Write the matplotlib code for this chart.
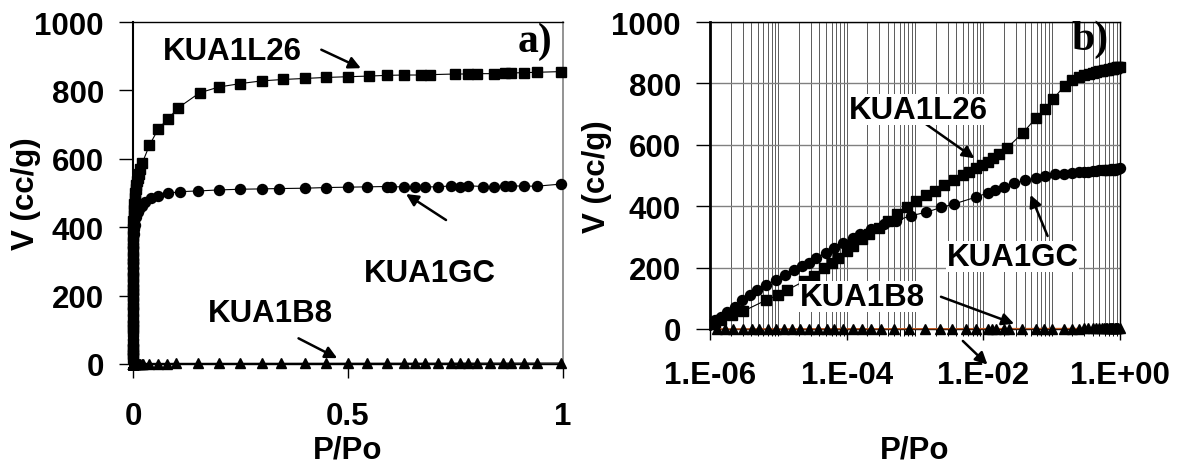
import matplotlib
matplotlib.use("Agg")
import matplotlib.pyplot as plt
from matplotlib.ticker import LogLocator, NullFormatter, FixedLocator

plt.rcParams['font.family'] = ['Liberation Sans', 'DejaVu Sans']
plt.rcParams['font.weight'] = 'bold'

# KUA1L26 (squares)
l26_x = [1.2e-6, 1.45e-6, 2.1e-6, 3.0e-6, 6.6e-6, 9.8e-6, 1.35e-5, 2.4e-5, 3.3e-5,
         4.6e-5, 6.0e-5, 7.4e-5, 1.0e-4, 1.23e-4, 1.66e-4, 2.14e-4, 2.95e-4, 4.07e-4,
         5.5e-4, 7.6e-4, 1.05e-3, 1.45e-3, 1.95e-3, 2.7e-3, 3.7e-3, 5.0e-3, 6.2e-3,
         7.9e-3, 9.5e-3, 1.15e-2, 1.38e-2, 1.7e-2, 2.2e-2, 3.8e-2, 5.9e-2, 8.1e-2,
         0.105, 0.155, 0.20, 0.25, 0.30, 0.35, 0.40, 0.45, 0.50, 0.55, 0.59, 0.63,
         0.67, 0.69, 0.75, 0.78, 0.80, 0.84, 0.865, 0.88, 0.91, 0.94, 0.995]
l26_v = [17, 28, 44, 57, 94, 110, 127, 156, 174,
         198, 215, 231, 253, 270, 292, 308, 330, 352,
         374, 396, 418, 435, 451, 468, 485, 501, 512,
         523, 534, 545, 556, 570, 589, 639, 688, 716,
         749, 793, 810, 820, 828, 832, 835, 838, 840, 842, 844, 845,
         845, 846, 848, 848, 849, 849, 850, 851, 852, 853, 855]

# KUA1GC (circles)
gc_x = [1.2e-6, 1.45e-6, 1.8e-6, 2.3e-6, 2.95e-6, 3.8e-6, 4.9e-6, 6.6e-6, 9.1e-6,
        1.26e-5, 1.7e-5, 2.2e-5, 2.8e-5, 3.6e-5, 5.0e-5, 6.5e-5, 8.9e-5, 1.23e-4,
        1.58e-4, 2.3e-4, 3.5e-4, 5.2e-4, 8.7e-4, 1.45e-3, 2.4e-3, 3.7e-3, 7.9e-3,
        1.15e-2, 1.48e-2, 2.0e-2, 2.8e-2, 4.1e-2, 5.9e-2, 8.1e-2, 0.11,
        0.152, 0.2, 0.25, 0.30, 0.34, 0.40, 0.45, 0.50, 0.545, 0.59, 0.60, 0.63,
        0.655, 0.68, 0.71, 0.74, 0.76, 0.78, 0.815, 0.84, 0.865, 0.88, 0.91, 0.94, 0.995]
gc_v = [28, 39, 55, 72, 94, 110, 127, 143, 160,
        176, 193, 204, 215, 231, 248, 264, 281, 295,
        308, 325, 341, 352, 369, 380, 396, 407, 430,
        443, 452, 463, 474, 485, 492, 499, 504,
        506, 509, 511, 512, 513, 514, 516, 517, 518, 519, 517, 519,
        517, 518, 518, 521, 519, 521, 519, 519, 520, 521, 520, 520, 526]

# KUA1B8 (triangles)
b8_x = [1.26e-6, 1.66e-6, 2.2e-6, 3.0e-6, 4.1e-6, 5.2e-6, 7.1e-6, 9.1e-6, 1.2e-5,
        1.6e-5, 2.1e-5, 2.8e-5, 3.8e-5, 5.1e-5, 6.6e-5, 8.7e-5, 1.23e-4, 1.7e-4,
        2.3e-4, 3.2e-4, 5.0e-4, 8.3e-4, 1.38e-3, 2.3e-3, 3.5e-3, 5.6e-3, 7.9e-3,
        1.15e-2, 1.35e-2, 1.55e-2, 2.0e-2, 2.4e-2, 3.7e-2, 5.9e-2, 7.8e-2, 0.1,
        0.152, 0.2, 0.25, 0.30, 0.345, 0.40, 0.45, 0.50, 0.545, 0.59, 0.63, 0.655,
        0.68, 0.71, 0.74, 0.76, 0.78, 0.80, 0.83, 0.86, 0.88, 0.91, 0.94, 0.995]
b8_v = [0.2, 0.2, 0.3, 0.3, 0.3, 0.4, 0.4, 0.4, 0.5,
        0.5, 0.5, 0.6, 0.6, 0.6, 0.7, 0.7, 0.7, 0.8,
        0.8, 0.8, 0.9, 0.9, 1.0, 1.0, 1.0, 1.1, 1.1,
        1.2, 1.2, 1.2, 1.3, 1.3, 1.3, 1.4, 1.4, 1.5,
        1.5, 1.6, 1.6, 1.7, 1.7, 1.8, 1.8, 1.9, 1.9, 2.0, 2.0, 2.0,
        2.1, 2.1, 2.1, 2.2, 2.2, 2.2, 2.3, 2.3, 2.3, 2.4, 2.4, 2.5]

yticks = [0, 200, 400, 600, 800, 1000]
log_ticks = [1e-6, 1e-4, 1e-2, 1.0]
log_labels = ['1.E-06', '1.E-04', '1.E-02', '1.E+00']

FS = 22.5
ms = 7.2

fig = plt.figure(figsize=(11.78, 4.64), dpi=100)
ax1 = fig.add_axes([0.1129, 0.2134, 0.365, 0.737])
ax2 = fig.add_axes([0.6027, 0.2888, 0.3481, 0.6616])


def draw_series(ax, b8_color):
    ax.plot(l26_x, l26_v, color='black', lw=0.8, marker='s', ms=ms, clip_on=False, zorder=3)
    ax.plot(gc_x, gc_v, color='black', lw=0.8, marker='o', ms=ms, clip_on=False, zorder=3)
    ax.plot(b8_x, b8_v, color=b8_color, lw=1.0, marker='^', ms=ms, mfc='black',
            mec='black', clip_on=False, zorder=3)


def arrow(ax, tail, head):
    ax.annotate('', xy=head, xytext=tail, annotation_clip=False,
                arrowprops=dict(arrowstyle='-|>', color='black', lw=1.8,
                                mutation_scale=18, shrinkA=0, shrinkB=0))


# ---- panel a) linear
draw_series(ax1, 'black')
ax1.set_xlim(0, 1)
ax1.set_ylim(0, 1000)
ax1.set_xticks([0, 0.5, 1])
ax1.set_xticklabels(['0', '0.5', '1'])
ax1.set_yticks(yticks)
ax1.tick_params(axis='x', direction='out', length=10, width=1, pad=17, labelsize=FS)
ax1.tick_params(axis='y', direction='out', length=10, width=1, pad=11, labelsize=FS)
ax1.spines['left'].set_linewidth(1.5)
ax1.spines['bottom'].set_linewidth(1.0)
ax1.spines['top'].set_linewidth(1.0)
ax1.spines['right'].set_color('#808080')
ax1.spines['right'].set_linewidth(1.2)
ax1.set_xlabel('P/Po', fontsize=FS, fontweight='bold')
ax1.set_ylabel('V (cc/g)', fontsize=FS, fontweight='bold')
ax1.xaxis.set_label_coords(0.5, -0.205)
ax1.yaxis.set_label_coords(-0.215, 0.5)

ax1.text(0.23, 915, 'KUA1L26', fontsize=FS, ha='center', va='center')
arrow(ax1, (0.438, 919), (0.53, 865))
ax1.text(0.69, 265, 'KUA1GC', fontsize=FS, ha='center', va='center')
arrow(ax1, (0.728, 421), (0.635, 497))
ax1.text(0.32, 148, 'KUA1B8', fontsize=FS, ha='center', va='center')
arrow(ax1, (0.385, 75), (0.475, 17))
ax1.text(0.935, 945, 'a)', fontsize=30, ha='center', va='center',
         family='Liberation Serif', fontweight='bold')

# ---- panel b) log
draw_series(ax2, '#c0571f')
ax2.set_xscale('log')
ax2.set_xlim(1e-6, 1)
ax2.set_ylim(0, 1000)
ax2.xaxis.set_major_locator(FixedLocator(log_ticks))
ax2.set_xticklabels(log_labels)
ax2.xaxis.set_minor_locator(LogLocator(base=10, subs=[1, 2, 3, 4, 5, 6, 7, 8, 9], numticks=20))
ax2.xaxis.set_minor_formatter(NullFormatter())
ax2.set_yticks(yticks)
ax2.grid(which='both', axis='x', color='#404040', lw=0.6, zorder=0)
ax2.grid(which='major', axis='y', color='#808080', lw=1.0, zorder=0)
ax2.set_axisbelow(True)
ax2.tick_params(axis='x', which='major', direction='out', length=8, width=1, pad=14, labelsize=FS)
ax2.tick_params(axis='x', which='minor', direction='out', length=5, width=0.7)
ax2.tick_params(axis='y', direction='out', length=10, width=1, pad=11, labelsize=FS)
ax2.spines['left'].set_linewidth(2.0)
for s in ['top', 'right', 'bottom']:
    ax2.spines[s].set_linewidth(1.0)
ax2.set_xlabel('P/Po', fontsize=FS, fontweight='bold')
ax2.set_ylabel('V (cc/g)', fontsize=FS, fontweight='bold')
ax2.xaxis.set_label_coords(0.5, -0.345)
ax2.yaxis.set_label_coords(-0.24, 0.5)

box = dict(facecolor='white', edgecolor='none', pad=0.5)
ax2.text(10 ** -2.95, 714, 'KUA1L26', fontsize=FS, ha='center', va='center', bbox=box, zorder=4)
arrow(ax2, (10 ** -2.90, 677), (10 ** -2.13, 556))
ax2.text(10 ** -1.57, 235, 'KUA1GC', fontsize=FS, ha='center', va='center', bbox=box, zorder=4)
arrow(ax2, (10 ** -1.06, 303), (10 ** -1.31, 437))
ax2.text(10 ** -3.77, 105, 'KUA1B8', fontsize=FS, ha='center', va='center', bbox=box, zorder=4)
arrow(ax2, (10 ** -2.62, 105), (10 ** -1.55, 17))
arrow(ax2, (10 ** -2.30, -39), (10 ** -1.94, -116))
ax2.text(10 ** -0.44, 947, 'b)', fontsize=30, ha='center', va='center',
         family='Liberation Serif', fontweight='bold', zorder=4)

fig.savefig('out.png', dpi=100)
